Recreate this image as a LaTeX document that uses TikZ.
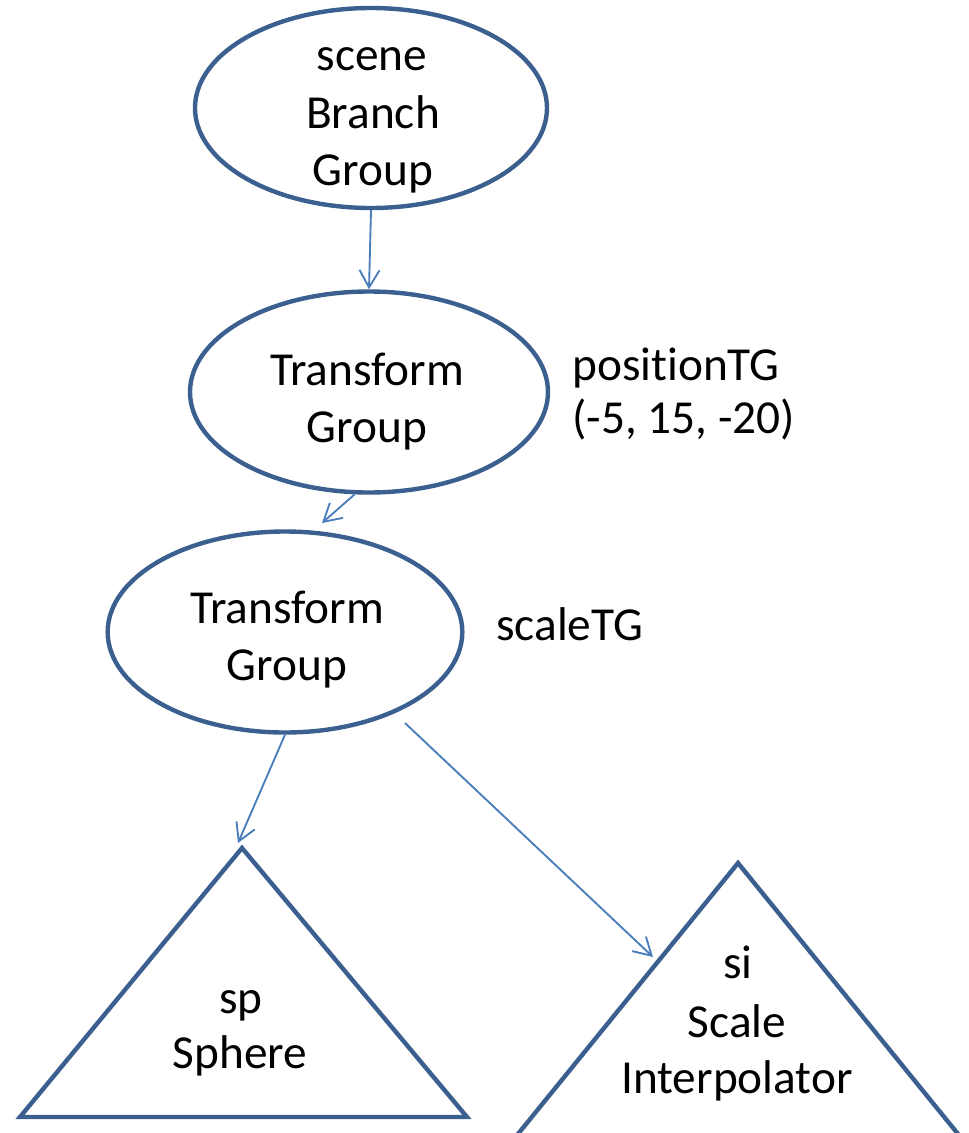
\documentclass[tikz,border=0pt]{standalone}
\usepackage{fontspec}
\setmainfont{Carlito}[Ligatures=NoCommon]
\usetikzlibrary{arrows.meta,calc,shapes.geometric}
\definecolor{shapeblue}{HTML}{3B5F8F}
\definecolor{arrowblue}{HTML}{4A7EBB}
\tikzset{
  ell/.style={ellipse, draw=shapeblue, line width=3.3pt, inner sep=0pt},
  tri/.style={draw=shapeblue, line width=3.3pt, line join=miter},
  conn/.style={draw=arrowblue, line width=1.4pt, -{Straight Barb[length=13pt,width=15pt]}},
  txt/.style={anchor=base, inner sep=0pt, font=\fontsize{35.5}{43}\selectfont},
  lbl/.style={anchor=base west, inner sep=0pt, font=\fontsize{35.5}{43}\selectfont},
}
\begin{document}
\begin{tikzpicture}[x=0.75pt,y=-0.75pt]
\useasboundingbox (0,0) rectangle (969,1133);
\clip (0,0) rectangle (969,1133);
% ellipses
\node[ell, minimum width=264pt, minimum height=150pt] (e1) at (371,108) {};
\node[ell, minimum width=268.5pt, minimum height=150.75pt] (e2) at (369,392) {};
\node[ell, minimum width=266pt, minimum height=150.75pt] (e3) at (285,632) {};
% triangles
\coordinate (t1) at (242,848);
\coordinate (t1l) at (20,1117);
\coordinate (t1r) at (467,1117);
\draw[tri] (t1) -- (t1r) -- (t1l) -- cycle;
\coordinate (t2) at (738,863);
\coordinate (t2l) at (505,1150);
\coordinate (t2r) at (971,1150);
\draw[tri] (t2) -- (t2r) -- (t2l) -- cycle;
% texts
\node[txt] (s1) at (372,70) {scene};
\node[txt] (s2) at (373,128) {Branch};
\node[txt] (s3) at (373,185) {Group};
\node[txt] (p1) at (367,385) {Transform};
\node[txt] (p2) at (367,442) {Group};
\node[txt] (q1) at (287,623) {Transform};
\node[txt] (q2) at (287,680) {Group};
\node[lbl] (l1) at (572,380) {positionTG};
\node[lbl] (l2) at (572,433) {(-5, 15, -20)};
\node[lbl] (l3) at (496,640) {scaleTG};
\node[txt] (sp1) at (241,1013) {sp};
\node[txt] (sp2) at (240,1068) {Sphere};
\node[txt] (si1) at (738,978) {si};
\node[txt] (si2) at (737,1037) {Scale};
\node[txt] (si3) at (737,1093) {Interpolator};
% connectors
\coordinate (c2) at (322,523);
\coordinate (c3) at (238,843);
\coordinate (c4) at (405,723);
\coordinate (c4e) at (653,957);
\draw[conn] (e1.south) -- (e2.north);
\draw[conn] (e2.262) -- (c2);
\draw[conn] (e3.south) -- (c3);
\draw[conn] (c4) -- (c4e);
\end{tikzpicture}
\end{document}
